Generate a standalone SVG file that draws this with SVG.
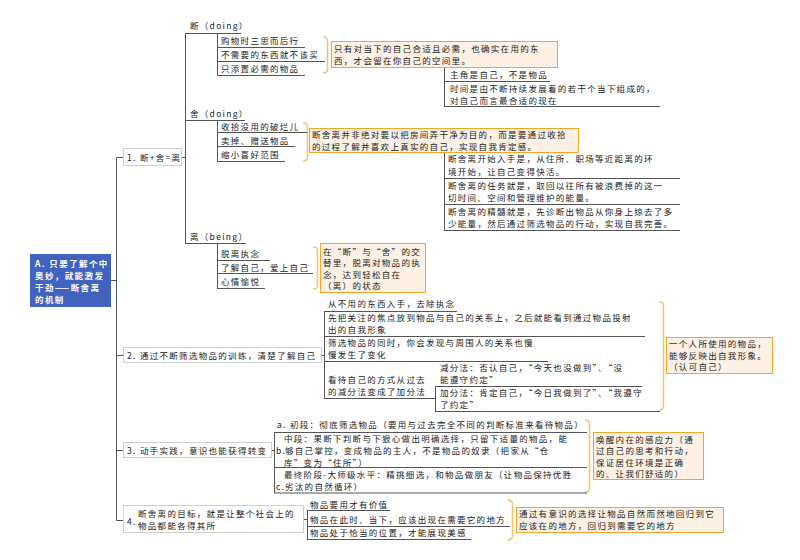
<svg xmlns="http://www.w3.org/2000/svg" width="800" height="560" viewBox="0 0 800 560">
<style>
.t{font-family:"Noto Sans CJK SC","Noto Sans",sans-serif;font-size:8.5px;letter-spacing:1.3px;fill:#222}
.rt{font-family:"Noto Sans CJK SC","Noto Sans",sans-serif;font-size:8.5px;letter-spacing:1.4px;font-weight:bold;fill:#fff}
.ln{stroke:#555;stroke-width:1;fill:none}
.box{fill:#fff;stroke:#cfcfcf;stroke-width:1}
.note{fill:#fdf0e4;stroke:#f3a629;stroke-width:1}
.br{stroke:#f6c46a;fill:none;stroke-width:1.5}
</style>
<rect width="800" height="560" fill="#fff"/>
<g id="connectors">
<path class="ln" d="M111 280.5H116.5M116.5 157.5V520.5H123M116.5 157.5H123M116.5 355.5H123M116.5 450.5H123"/>
<path class="ln" d="M181 157.5H185.5M185.5 33.5V243.5"/>
<path class="ln" d="M217.5 33.5V75.5M217.5 120.5V161.5M217.5 243.5V288.5"/>
<path class="ln" d="M444.5 67.5V106.5M444.5 152.5V230.5"/>
<path class="ln" d="M321 355.5H324.5M324.5 311.5V398.5M435.5 386.5V411.5"/>
<path class="ln" d="M270 450.5H274.5M274.5 432.5V493"/>
<path class="ln" d="M303 519.5H307.5M307.5 510.5V539.5"/>
<path class="br" d="M323 37Q327.5 37 327.5 41V69Q327.5 73 323 73"/>
<path class="br" d="M303 123Q307.5 123 307.5 127V157Q307.5 161 303 161"/>
<path class="br" d="M313 247Q317.5 247 317.5 251V285Q317.5 289 313 289"/>
<path class="br" d="M659 302Q663.5 302 663.5 306V406Q663.5 410 659 410"/>
<path class="br" d="M585 420Q589.5 420 589.5 424V488Q589.5 492 585 492"/>
<path class="br" d="M508 500Q512.5 500 512.5 504V536Q512.5 540 508 540"/>
</g>
<g id="root">
<rect x="30" y="254" width="81" height="53" fill="#4262c0"/>
<text class="rt" x="35" y="266.5">A. 只要了解个中</text>
<text class="rt" x="35" y="278.5">奥妙，就能激发</text>
<text class="rt" x="35" y="290.5">干劲——断舍离</text>
<text class="rt" x="35" y="302.5">的机制</text>
</g>
<g id="n1">
<rect class="box" x="123.5" y="148.5" width="58" height="17"/>
<text class="t" x="127" y="160.5">1. 断+舍=离</text>
</g>
<g id="n1-duan">
<text class="t" x="190" y="29">断（doing）</text>
<path class="ln" d="M185 33.5H241"/>
</g>
<g id="n1-duan-items">
<text class="t" x="221" y="44">购物时三思而后行</text>
<text class="t" x="221" y="58">不需要的东西就不该买</text>
<text class="t" x="221" y="72">只添置必需的物品</text>
<path class="ln" d="M217 47.5H305M217 61.5H325M217 75.5H305"/>
</g>
<g id="note1">
<rect class="note" x="331.5" y="41.5" width="226" height="26"/>
<text class="t" x="334" y="51.5">只有对当下的自己合适且必需，也确实在用的东</text>
<text class="t" x="334" y="63.5">西，才会留在你自己的空间里。</text>
</g>
<g id="note1-items">
<text class="t" x="450" y="78">主角是自己，不是物品</text>
<text class="t" x="450" y="91.5">时间是由不断持续发展着的若干个当下组成的，</text>
<text class="t" x="450" y="104">对自己而言最合适的现在</text>
<path class="ln" d="M444 81.5H550M444 106.5H660"/>
</g>
<g id="n1-she">
<text class="t" x="190" y="117">舍（doing）</text>
<path class="ln" d="M185 120.5H245"/>
</g>
<g id="n1-she-items">
<text class="t" x="221" y="130">收拾没用的破烂儿</text>
<text class="t" x="221" y="144">卖掉、赠送物品</text>
<text class="t" x="221" y="158">缩小喜好范围</text>
<path class="ln" d="M217 132.5H307M217 146.5H295M217 161.5H285"/>
</g>
<g id="note2">
<rect class="note" x="309.5" y="128.5" width="269" height="24"/>
<text class="t" x="312" y="138">断舍离并非绝对要以把房间弄干净为目的，而是要通过收拾</text>
<text class="t" x="312" y="150">的过程了解并喜欢上真实的自己，实现自我肯定感。</text>
</g>
<g id="note2-items">
<text class="t" x="448" y="162">断舍离开始入手是，从住所、职场等近距离的环</text>
<text class="t" x="448" y="174.5">境开始，让自己变得快活。</text>
<text class="t" x="448" y="188.5">断舍离的任务就是，取回以往所有被浪费掉的这一</text>
<text class="t" x="448" y="201">切时间、空间和管理维护的能量。</text>
<text class="t" x="448" y="214.5">断舍离的精髓就是，先诊断出物品从你身上掠去了多</text>
<text class="t" x="448" y="227">少能量，然后通过筛选物品的行动，实现自我完善。</text>
<path class="ln" d="M444 178.5H680M444 204.5H680M444 230.5H680"/>
</g>
<g id="n1-li">
<text class="t" x="190" y="240">离（being）</text>
<path class="ln" d="M185 243.5H246"/>
</g>
<g id="n1-li-items">
<text class="t" x="221" y="257">脱离执念</text>
<text class="t" x="221" y="271">了解自己，爱上自己</text>
<text class="t" x="221" y="285">心情愉悦</text>
<path class="ln" d="M217 260.5H270M217 273.5H313M217 288.5H265"/>
</g>
<g id="note3">
<rect class="note" x="320.5" y="243.5" width="105" height="49"/>
<text class="t" x="323" y="254.5">在“断”与“舍”的交</text>
<text class="t" x="323" y="266">替里，脱离对物品的执</text>
<text class="t" x="323" y="277.5">念，达到轻松自在</text>
<text class="t" x="323" y="289">（离）的状态</text>
</g>
<g id="n2">
<rect class="box" x="123.5" y="347.5" width="198" height="15"/>
<text class="t" x="127" y="358.5">2. 通过不断筛选物品的训练，清楚了解自己</text>
</g>
<g id="n2-items">
<text class="t" x="328" y="306.5">从不用的东西入手，去除执念</text>
<text class="t" x="328" y="321">先把关注的焦点放到物品与自己的关系上，之后就能看到通过物品投射</text>
<text class="t" x="328" y="333">出的自我形象</text>
<text class="t" x="328" y="346">筛选物品的同时，你会发现与周围人的关系也慢</text>
<text class="t" x="328" y="358">慢发生了变化</text>
<text class="t" x="328" y="383">看待自己的方式从过去</text>
<text class="t" x="328" y="395">的减分法变成了加分法</text>
<path class="ln" d="M324 311.5H457M324 336.5H645M324 361.5H548M324 398.5H435.5"/>
</g>
<g id="n2-sub">
<text class="t" x="440" y="371">减分法：否认自己，“今天也没做到”、“没</text>
<text class="t" x="440" y="383">能遵守约定”</text>
<text class="t" x="440" y="396">加分法：肯定自己，“今日我做到了”、“我遵守</text>
<text class="t" x="440" y="408">了约定”</text>
<path class="ln" d="M435 386.5H642M435 411.5H660"/>
</g>
<g id="note4">
<rect class="note" x="666.5" y="337.5" width="106" height="36"/>
<text class="t" x="669" y="347">一个人所使用的物品，</text>
<text class="t" x="669" y="358.5">能够反映出自我形象。</text>
<text class="t" x="669" y="370">（认可自己）</text>
</g>
<g id="n3">
<rect class="box" x="123.5" y="442.5" width="148" height="15"/>
<text class="t" x="127" y="453.5">3. 动手实践，意识也能获得转变</text>
</g>
<g id="n3-items">
<text class="t" x="277" y="428">a. 初段：彻底筛选物品（要用与过去完全不同的判断标准来看待物品）</text>
<text class="t" x="284" y="441.5">中段：果断下判断与下狠心做出明确选择，只留下适量的物品，能</text>
<text class="t" x="276" y="453.5">b.</text>
<text class="t" x="285" y="453.5">够自己掌控，变成物品的主人，不是物品的奴隶（把家从“仓</text>
<text class="t" x="284" y="465.5">库”变为“住所”）</text>
<text class="t" x="284" y="478">最终阶段-大师级水平：精挑细选，和物品做朋友（让物品保持优胜</text>
<text class="t" x="276" y="490">c.</text>
<text class="t" x="285" y="490">劣汰的自然循环）</text>
<path class="ln" d="M274 432.5H587M274 467.5H587M274 493H587"/>
</g>
<g id="note5">
<rect class="note" x="593.5" y="432.5" width="110" height="47"/>
<text class="t" x="596" y="442.5">唤醒内在的感应力（通</text>
<text class="t" x="596" y="454">过自己的思考和行动，</text>
<text class="t" x="596" y="465.5">保证居住环境是正确</text>
<text class="t" x="596" y="477">的、让我们舒适的）</text>
</g>
<g id="n4">
<rect class="box" x="123.5" y="505.5" width="180" height="27"/>
<text class="t" x="127" y="524.5">4.</text>
<text class="t" x="138" y="517">断舍离的目标，就是让整个社会上的</text>
<text class="t" x="138" y="529">物品都能各得其所</text>
</g>
<g id="n4-items">
<text class="t" x="310" y="507.5">物品要用才有价值</text>
<text class="t" x="310" y="523">物品在此时、当下，应该出现在需要它的地方</text>
<text class="t" x="310" y="536">物品处于恰当的位置，才能展现美感</text>
<path class="ln" d="M307 510.5H390M307 526.5H510M307 539.5H471"/>
</g>
<g id="note6">
<rect class="note" x="516.5" y="507.5" width="207" height="25"/>
<text class="t" x="519" y="517">通过有意识的选择让物品自然而然地回归到它</text>
<text class="t" x="519" y="529">应该在的地方，回归到需要它的地方</text>
</g>
</svg>
